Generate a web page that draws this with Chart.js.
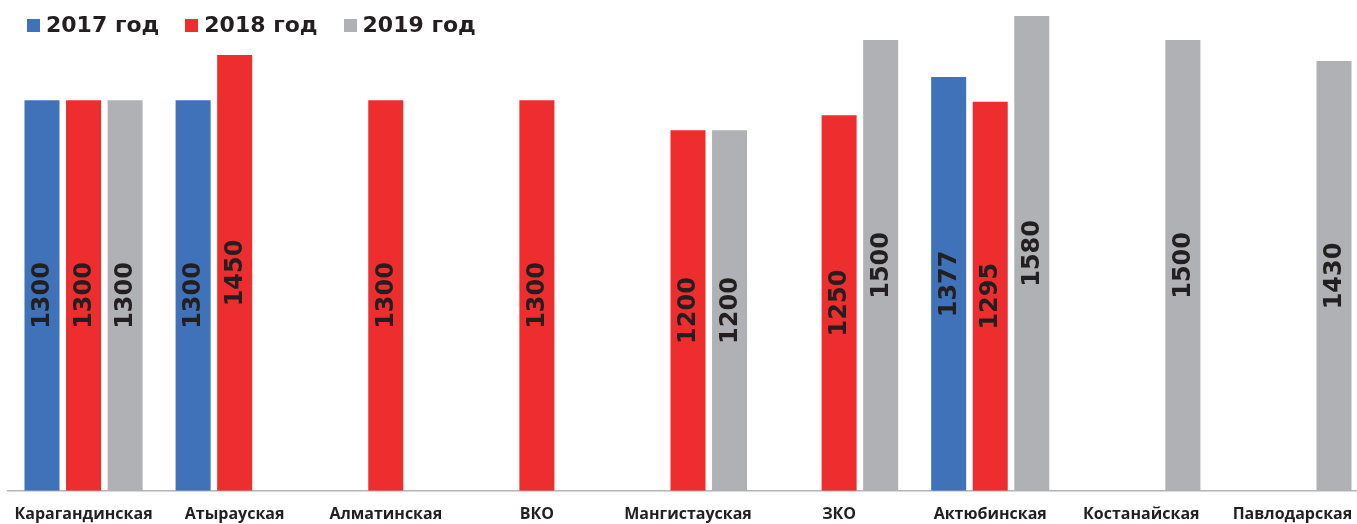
<!DOCTYPE html>
<html lang="ru">
<head>
    <meta charset="UTF-8">
    <title>Зарплата по регионам</title>
    <style>
        html, body { margin: 0; padding: 0; background: #fff; overflow: hidden; }
        #wrap { position: relative; width: 1368px; height: 524px; overflow: hidden; }
        #legend { position: absolute; top: 12px; left: 27px; display: flex; font: bold 22px "DejaVu Sans", Verdana, sans-serif; color: #231f20; }
        .item { display: flex; align-items: center; margin-right: 26px; line-height: 26px; }
        .box { width: 13px; height: 13px; margin-right: 6px; }
    </style>
    <script src="https://cdn.jsdelivr.net/npm/chart.js"></script>
</head>
<body>
    <div id="wrap">
        <canvas id="chart" width="1368" height="538"></canvas>
        <div id="legend"></div>
    </div>

    <script>
        const regions = ["Карагандинская", "Атырауская", "Алматинская", "ВКО", "Мангистауская", "ЗКО", "Актюбинская", "Костанайская", "Павлодарская"];
        const years = ["2017 год", "2018 год", "2019 год"];
        const values2017 = [1300, 1300, null, null, null, null, 1377, null, null];
        const values2018 = [1300, 1450, 1300, 1300, 1200, 1250, 1295, null, null];
        const values2019 = [1300, null, null, null, 1200, 1500, 1580, 1500, 1430];
        const colors = ["#3f72b9", "#ee2e2e", "#b0b1b4"];

        // подписи значений внутри столбцов, повернутые вертикально
        const barLabels = {
            id: "barLabels",
            afterDatasetsDraw(chart) {
                const ctx = chart.ctx;
                ctx.save();
                ctx.font = "bold 24px 'DejaVu Sans', Verdana, sans-serif";
                ctx.fillStyle = "#231f20";
                ctx.textAlign = "center";
                ctx.textBaseline = "middle";
                chart.data.datasets.forEach((ds, i) => {
                    chart.getDatasetMeta(i).data.forEach((bar, j) => {
                        const v = ds.data[j];
                        if (v == null) return;
                        ctx.save();
                        ctx.translate(bar.x, (bar.y + bar.base) / 2);
                        ctx.rotate(-Math.PI / 2);
                        ctx.fillText(String(v), 0, 1);
                        ctx.restore();
                    });
                });
                ctx.restore();
            }
        };

        const chart = new Chart(document.getElementById("chart"), {
            type: "bar",
            data: {
                labels: regions,
                datasets: [
                    { label: years[0], data: values2017, backgroundColor: colors[0] },
                    { label: years[1], data: values2018, backgroundColor: colors[1] },
                    { label: years[2], data: values2019, backgroundColor: colors[2] }
                ]
            },
            options: {
                responsive: false,
                animation: false,
                categoryPercentage: 0.825,
                barPercentage: 0.843,
                layout: { padding: { left: 8, right: 0, top: 10, bottom: 0 } },
                plugins: { legend: { display: false }, tooltip: { enabled: false } },
                scales: {
                    x: {
                        grid: { display: false, drawTicks: false },
                        border: { color: "#b4b4b4", width: 1.5 },
                        ticks: {
                            padding: 14,
                            color: "#231f20",
                            maxRotation: 0,
                            autoSkip: false,
                            font: { family: "'Open Sans', sans-serif", size: 16, weight: "bold" }
                        }
                    },
                    y: { display: false, min: 0, max: 1600 }
                }
            },
            plugins: [barLabels]
        });

        // легенда
        const legend = document.getElementById("legend");
        years.forEach((y, i) => {
            const item = document.createElement("div");
            item.className = "item";
            const box = document.createElement("span");
            box.className = "box";
            box.style.background = colors[i];
            const txt = document.createElement("span");
            txt.textContent = y;
            item.appendChild(box);
            item.appendChild(txt);
            legend.appendChild(item);
        });
    </script>
</body>
</html>
